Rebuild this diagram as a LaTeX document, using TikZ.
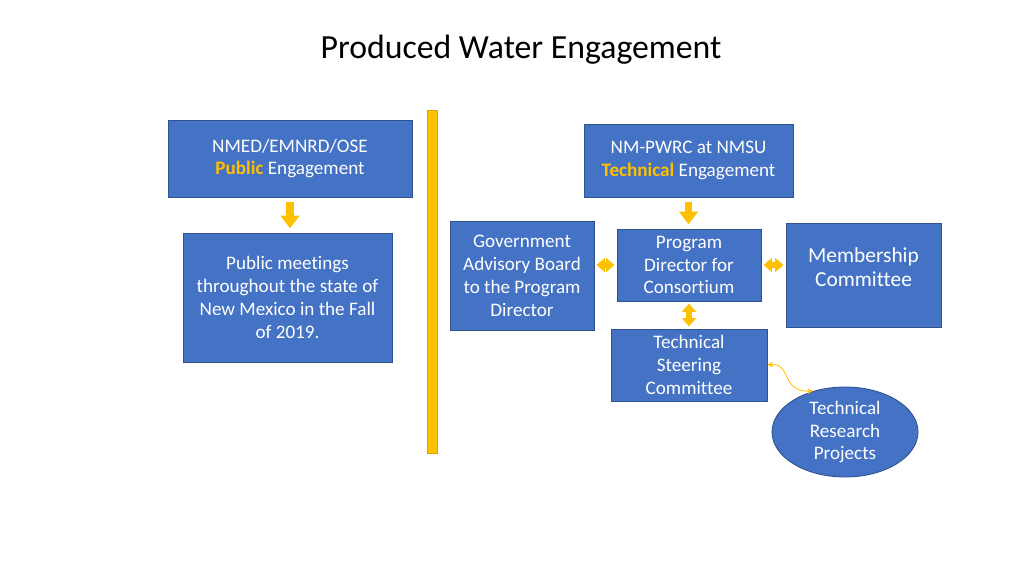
\documentclass[tikz,border=0pt]{standalone}
\usepackage{fontspec}
\setmainfont{Carlito}[Ligatures={NoCommon}]
\usepackage{xcolor}
\usetikzlibrary{positioning, arrows.meta, shapes.geometric, calc}
\definecolor{pwblue}{HTML}{4472C4}
\definecolor{pwedge}{HTML}{2F528F}
\definecolor{pwgold}{HTML}{FFC000}

\begin{document}
\begin{tikzpicture}[
    x=0.025cm, y=-0.025cm,
    box/.style={rectangle, draw=pwedge, fill=pwblue, line width=0.6pt, text=white, align=center, inner sep=0.5pt, font=\fontsize{13.6}{16.3}\selectfont},
    boxtext/.style={text=white, align=center, inner sep=0pt, font=\fontsize{13.6}{16.3}\selectfont},
    flow/.style={draw=pwgold, line width=5pt, -{Triangle[width=13pt, length=9pt]}, shorten <=3pt, shorten >=3pt},
    link/.style={draw=pwgold, line width=4pt, {Triangle[width=10pt, length=6pt]}-{Triangle[width=10pt, length=6pt]}, shorten <=1.5pt, shorten >=1.5pt}
]
    \useasboundingbox (0,0) rectangle (1024,576);
    % Title
    \node[font=\fontsize{24}{28}\selectfont] (title) at (521,50) {Produced Water Engagement};
    % Public side
    \node[box, minimum width=6.1cm, minimum height=1.925cm] (public) at (290,158.5) {NMED/EMNRD/OSE\\\textcolor{pwgold}{\textbf{Public}} Engagement};
    \node[box, minimum width=5.225cm, minimum height=3.225cm] (meetings) at (287.5,297.5) {Public meetings\\throughout the state of\\New Mexico in the Fall\\of 2019.};
    % Divider
    \filldraw[fill=pwgold, draw=pwgold!85!black, line width=0.4pt] (427,110) rectangle (437,453);
    % Technical side
    \node[box, minimum width=5.225cm, minimum height=1.825cm] (pwrc) at (688.5,160.5) {NM-PWRC at NMSU\\\textcolor{pwgold}{\textbf{Technical}} Engagement};
    \node[box, minimum width=3.6cm, minimum height=1.8cm] (director) at (689,265) {Program\\Director for\\Consortium};
    \node[box, minimum width=3.6cm, minimum height=2.725cm] (advisory) at (522,275.5) {Government\\Advisory Board\\to the Program\\Director};
    \node[box, minimum width=3.875cm, minimum height=2.6cm] (membership) at (863.5,275) {};
    \node[boxtext, font=\fontsize{15.2}{17.5}\selectfont] (membtext) at (863.5,267) {Membership\\Committee};
    \node[box, minimum width=3.9cm, minimum height=1.8cm] (steering) at (689,365) {Technical\\Steering\\Committee};
    \node[ellipse, draw=pwedge, fill=pwblue, line width=0.6pt, minimum width=3.65cm, minimum height=2.25cm, inner sep=0pt] (projects) at (845,432) {};
    \node[boxtext] (projtext) at (projects.center) {Technical\\Research\\Projects};
    % Arrows
    \draw[flow] (public.south) -- (public.south |- meetings.north);
    \draw[flow] (pwrc.south) -- (pwrc.south |- director.north);
    \draw[link] (advisory.east |- director.west) -- (director.west);
    \draw[link] (director.east) -- (director.east -| membership.west);
    \draw[link] (director.south) -- (director.south |- steering.north);
    \draw[pwgold, line width=0.6pt, {Stealth[length=4pt, width=4pt]}-{Stealth[length=4pt, width=4pt]}] (steering.east) .. controls (792,362) and (780,392) .. (projects.128);
\end{tikzpicture}
\end{document}
